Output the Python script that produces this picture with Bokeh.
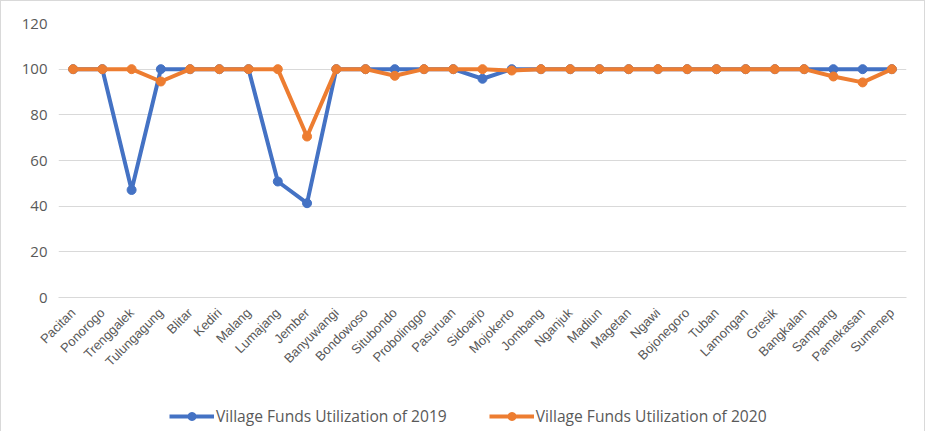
import math
from bokeh.plotting import figure
from bokeh.layouts import column
from bokeh.models import FactorRange, Range1d, Legend, LegendItem, FixedTicker
from bokeh.embed import file_html
from bokeh.resources import INLINE

regencies = ["Pacitan", "Ponorogo", "Trenggalek", "Tulungagung", "Blitar", "Kediri",
             "Malang", "Lumajang", "Jember", "Banyuwangi", "Bondowoso", "Situbondo",
             "Probolinggo", "Pasuruan", "Sidoarjo", "Mojokerto", "Jombang", "Nganjuk",
             "Madiun", "Magetan", "Ngawi", "Bojonegoro", "Tuban", "Lamongan", "Gresik",
             "Bangkalan", "Sampang", "Pamekasan", "Sumenep"]
funds_2019 = [100, 100, 47.1, 100, 100, 100, 100, 50.8, 41.3, 100, 100, 100, 100, 100,
              95.8, 100, 100, 100, 100, 100, 100, 100, 100, 100, 100, 100, 100, 100, 100]
funds_2020 = [100, 100, 100, 94.6, 100, 100, 100, 100, 70.5, 100, 100, 97.1, 100, 100,
              100, 99.4, 100, 100, 100, 100, 100, 100, 100, 100, 100, 100, 96.8, 94.2, 100]
y_ticks = [0, 20, 40, 60, 80, 100, 120]
series_names = ["Village Funds Utilization of 2019", "Village Funds Utilization of 2020"]

BLUE = "#4472C4"
ORANGE = "#ED7D31"
GRID = "#d9d9d9"
TXT = "#595959"

p = figure(x_range=FactorRange(*regencies, range_padding=0),
           y_range=Range1d(0, 120),
           width=925, height=391,
           output_backend="svg", toolbar_location=None,
           min_border_left=57, min_border_right=20,
           min_border_top=22, min_border_bottom=95)
p.outline_line_color = None
p.background_fill_color = "white"
p.border_fill_color = "white"
p.styles = {"border-top": "1px solid #d9d9d9", "border-left": "1px solid #d9d9d9",
            "border-right": "1px solid #d9d9d9"}

p.line(regencies, funds_2019, line_color=BLUE, line_width=4)
p.scatter(regencies, funds_2019, size=9, fill_color=BLUE, line_color=BLUE)
p.line(regencies, funds_2020, line_color=ORANGE, line_width=4)
p.scatter(regencies, funds_2020, size=9, fill_color=ORANGE, line_color=ORANGE)

p.xgrid.grid_line_color = None
p.ygrid.grid_line_color = GRID
p.ygrid.grid_line_width = 1
p.yaxis.ticker = FixedTicker(ticks=y_ticks)
p.yaxis.axis_line_color = None
p.yaxis.major_tick_line_color = None
p.yaxis.major_tick_out = 0
p.yaxis.minor_tick_line_color = None
p.yaxis.major_label_text_font = "Open Sans"
p.yaxis.major_label_text_font_size = "15px"
p.yaxis.major_label_text_color = TXT
p.yaxis.major_label_standoff = 11

p.xaxis.axis_line_color = GRID
p.xaxis.major_tick_line_color = None
p.xaxis.minor_tick_line_color = None
p.xaxis.major_label_orientation = math.pi / 4
p.xaxis.major_label_text_font = "Liberation Sans"
p.xaxis.major_label_text_font_size = "13px"
p.xaxis.major_label_text_color = TXT
p.xaxis.major_label_standoff = 7

# legend strip below the chart; its key renderers reuse the data but sit
# outside the strip's visible y range, so only the legend keys show
lg = figure(width=925, height=40, x_range=FactorRange(*regencies, range_padding=0),
            y_range=Range1d(1000, 1001),
            x_axis_type=None, y_axis_type=None,
            output_backend="svg", toolbar_location=None, min_border=0)
lg.outline_line_color = None
lg.xgrid.grid_line_color = None
lg.ygrid.grid_line_color = None
lg.styles = {"border-left": "1px solid #d9d9d9", "border-right": "1px solid #d9d9d9"}
kl1 = lg.line(regencies, funds_2019, line_color=BLUE, line_width=4)
ks1 = lg.scatter(regencies, funds_2019, size=9, fill_color=BLUE, line_color=BLUE)
kl2 = lg.line(regencies, funds_2020, line_color=ORANGE, line_width=4)
ks2 = lg.scatter(regencies, funds_2020, size=9, fill_color=ORANGE, line_color=ORANGE)

legend = Legend(items=[LegendItem(label=series_names[0], renderers=[kl1, ks1]),
                       LegendItem(label=series_names[1], renderers=[kl2, ks2])],
                orientation="horizontal", location=(111, 4),
                padding=0, margin=0, spacing=42,
                glyph_width=45, glyph_height=20, label_standoff=2,
                border_line_color=None, background_fill_alpha=0,
                label_text_font="Open Sans", label_text_font_size="15.6px",
                label_text_color=TXT)
lg.add_layout(legend, "center")

layout = column(p, lg, spacing=0)

open("out.html", "w").write(file_html(layout, INLINE))
